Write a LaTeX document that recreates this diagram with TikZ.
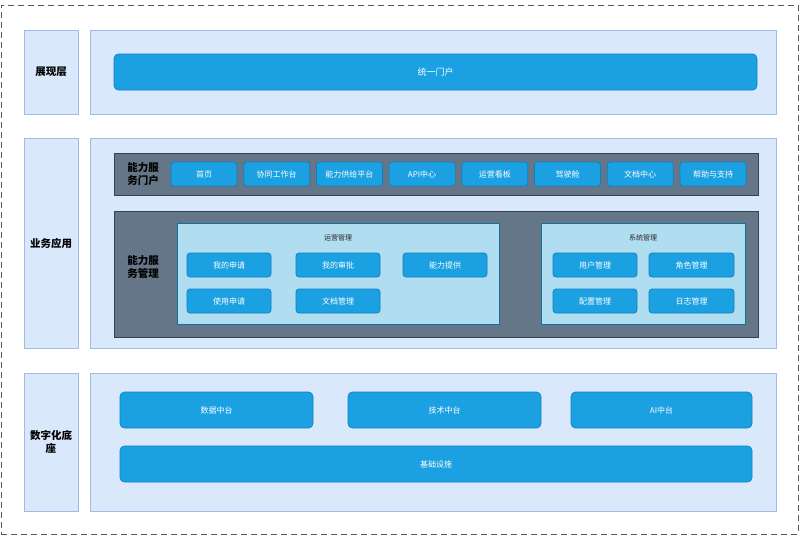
\documentclass[tikz,border=0pt]{standalone}
\usepackage{fontspec}
\setmainfont{Noto Sans CJK SC}
\definecolor{layerfill}{HTML}{DAE8FC}
\definecolor{layerdraw}{HTML}{9FBCE5}
\definecolor{btnfill}{HTML}{1BA1E2}
\definecolor{btndraw}{HTML}{0F7FC4}
\definecolor{darkfill}{HTML}{647687}
\definecolor{darkdraw}{HTML}{314354}
\definecolor{innerfill}{HTML}{B1DDF0}
\definecolor{innerdraw}{HTML}{10739E}
\newcommand\bx[7]{\node[#2, anchor=north west, outer sep=0pt, inner sep=0pt,
  minimum width={(#5-#3)*1pt}, minimum height={(#6-#4)*1pt}] (#1) at (#3,#4) {#7};}
\tikzset{
  layer/.style={draw=layerdraw, fill=layerfill, line width=0.8pt},
  lbl/.style={layer, font=\fontsize{10.5}{13}\selectfont\bfseries, align=center, text=black},
  btn/.style={draw=btndraw, fill=btnfill, rounded corners=3pt, line width=0.7pt, text=white, font=\fontsize{8}{10}\selectfont},
  bigbtn/.style={btn, rounded corners=4.5pt},
  darkbox/.style={draw=darkdraw, fill=darkfill, line width=0.8pt},
  darklbl/.style={font=\fontsize{10.5}{13}\selectfont\bfseries, align=center, text=black},
  innerbox/.style={draw=innerdraw, fill=innerfill, line width=0.8pt},
  ttl/.style={font=\fontsize{7}{9}\selectfont, text=black!85}
}
\begin{document}
\begin{tikzpicture}[x=1pt, y=-1pt]
\useasboundingbox (0,0) rectangle (800,536);
\node[draw=black!65, dashed, dash pattern=on 6pt off 4pt, line width=0.9pt, anchor=north west, outer sep=0pt, inner sep=0pt,
  minimum width=797pt, minimum height=529pt] (frame) at (1,5) {};
% layer 1
\bx{l1}{lbl}{24}{30}{78}{114}{展现层}
\bx{c1}{layer}{90}{30}{776}{114}{}
\bx{portal}{bigbtn, font=\fontsize{9}{11}\selectfont}{114}{54}{757}{90}{统一门户}
% layer 2
\bx{l2}{lbl}{24}{138}{78}{348}{业务应用}
\bx{c2}{layer}{90}{138}{776}{348}{}
\bx{d1}{darkbox}{114}{153}{758}{195}{}
\node[darklbl] (d1l) at (143,174) {能力服\\务门户};
\bx{p1}{btn}{171}{162}{237}{186}{首页}
\bx{p2}{btn}{243.7}{162}{309.7}{186}{协同工作台}
\bx{p3}{btn}{316.4}{162}{382.4}{186}{能力供给平台}
\bx{p4}{btn}{389.1}{162}{455.1}{186}{API中心}
\bx{p5}{btn}{461.8}{162}{527.8}{186}{运营看板}
\bx{p6}{btn}{534.5}{162}{600.5}{186}{驾驶舱}
\bx{p7}{btn}{607.2}{162}{673.2}{186}{文档中心}
\bx{p8}{btn}{680}{162}{746}{186}{帮助与支持}
\bx{d2}{darkbox}{114}{211}{758}{337}{}
\node[darklbl] (d2l) at (143,267) {能力服\\务管理};
\bx{ops}{innerbox}{177}{223}{499}{324}{}
\node[ttl] (opst) at (338,238) {运营管理};
\bx{o1}{btn}{187}{253}{271}{277}{我的申请}
\bx{o2}{btn}{296}{253}{380}{277}{我的审批}
\bx{o3}{btn}{403}{253}{487}{277}{能力提供}
\bx{o4}{btn}{187}{289}{271}{313}{使用申请}
\bx{o5}{btn}{296}{289}{380}{313}{文档管理}
\bx{sys}{innerbox}{541}{223}{745}{324}{}
\node[ttl] (syst) at (643,238) {系统管理};
\bx{s1}{btn}{553}{253}{637}{277}{用户管理}
\bx{s2}{btn}{649}{253}{734}{277}{角色管理}
\bx{s3}{btn}{553}{289}{637}{313}{配置管理}
\bx{s4}{btn}{649}{289}{734}{313}{日志管理}
% layer 3
\bx{l3}{lbl}{24}{373}{78}{511}{数字化底\\座}
\bx{c3}{layer}{90}{373}{776}{511}{}
\bx{b1}{bigbtn}{120}{392}{313}{428}{数据中台}
\bx{b2}{bigbtn}{348}{392}{541}{428}{技术中台}
\bx{b3}{bigbtn}{571}{392}{752}{428}{AI中台}
\bx{b4}{bigbtn}{120}{446}{752}{482}{基础设施}
\end{tikzpicture}
\end{document}
